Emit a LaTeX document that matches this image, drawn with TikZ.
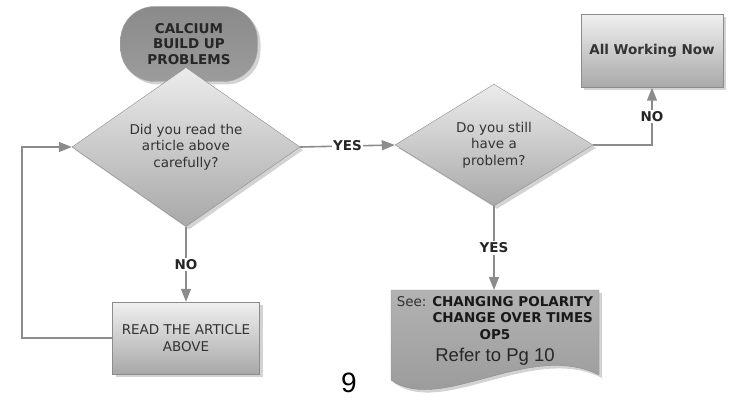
\documentclass[tikz,border=0pt]{standalone}
\usepackage{fontspec}
\setmainfont{DejaVu Sans}
\newfontfamily\arialfont{Liberation Sans}
\usetikzlibrary{shapes.geometric,arrows.meta,shadows}
\definecolor{lnGray}{HTML}{8C8C8C}
\definecolor{txGray}{HTML}{333333}
\definecolor{pillTop}{HTML}{8A8A8A}
\definecolor{pillBot}{HTML}{9C9C9C}
\begin{document}
\begin{tikzpicture}[x=1pt,y=-1pt,
  font=\fontsize{13.5}{16.5}\selectfont,
  shad/.style={drop shadow={shadow xshift=3pt,shadow yshift=-3pt,opacity=0.35}},
  ask/.style={diamond,draw=lnGray,top color=gray!15,bottom color=gray!68,shad,inner sep=0pt,align=center,text=txGray},
  box/.style={rectangle,draw=lnGray,top color=gray!12,bottom color=gray!68,shad,align=center,text=txGray},
  link/.style={draw=lnGray,line width=1.6pt},
  tip/.style={-{Triangle[length=13pt,width=10pt]}},
  lbl/.style={fill=white,font=\fontsize{13.5}{16}\selectfont\bfseries,text=black!85,inner sep=1.5pt}]
\useasboundingbox (0,0) rectangle (731,398);
\node[rectangle,rounded corners=34pt,minimum width=137pt,minimum height=75pt,top color=pillTop,bottom color=pillBot,draw=gray!70,shad,align=center,text=black!85,font=\fontsize{13.5}{15.5}\selectfont\bfseries] (start) at (189,44) {CALCIUM\\BUILD UP\\PROBLEMS};
\node[ask,minimum width=228pt,minimum height=117pt] (qA) at (186,147) {Did you read the\\article above\\carefully?};
\node[ask,minimum width=198pt,minimum height=106pt] (qB) at (494,145) {Do you still\\have a\\problem?};
\node[box,minimum width=142pt,minimum height=73pt,font=\fontsize{13.5}{16}\selectfont\bfseries] (ok) at (652,51) {All Working Now};
\node[box,minimum width=147pt,minimum height=72pt] (read) at (186,338) {READ THE ARTICLE\\ABOVE};
% document shape
\path[draw=lnGray,top color=gray!60,bottom color=gray!82,shad] (391,290) -- (599,290) -- (599,375) .. controls (530,340) and (440,415) .. (391,380) -- cycle;
\coordinate (seeTop) at (494,290);
\node[anchor=north,inner sep=0pt,align=center,text=txGray] (see) at (495,296) {See: \textbf{\color{black!90}CHANGING POLARITY}\\ \phantom{See: }\textbf{\color{black!90}CHANGE OVER TIMES}\\ \textbf{\color{black!90}OP5}\\[6pt] {\arialfont\fontsize{18.5}{18.5}\selectfont\color{black!85}Refer to Pg 10}};
\node[font=\arialfont\fontsize{28}{28}\selectfont] (pg) at (349,383) {9};
% connectors
\draw[link,tip] (qA.east) -- (qB.west) node[lbl,midway]{YES};
\draw[link,tip] (qB.east) -| (ok.south) node[lbl,pos=0.75]{NO};
\draw[link,tip] (qB.south) -- (seeTop) node[lbl,midway]{YES};
\draw[link,tip] (qA.south) -- (read.north) node[lbl,midway]{NO};
\coordinate (back) at (22,338);
\draw[link,tip] (read.west) -- (back) |- (qA.west);
\end{tikzpicture}
\end{document}
